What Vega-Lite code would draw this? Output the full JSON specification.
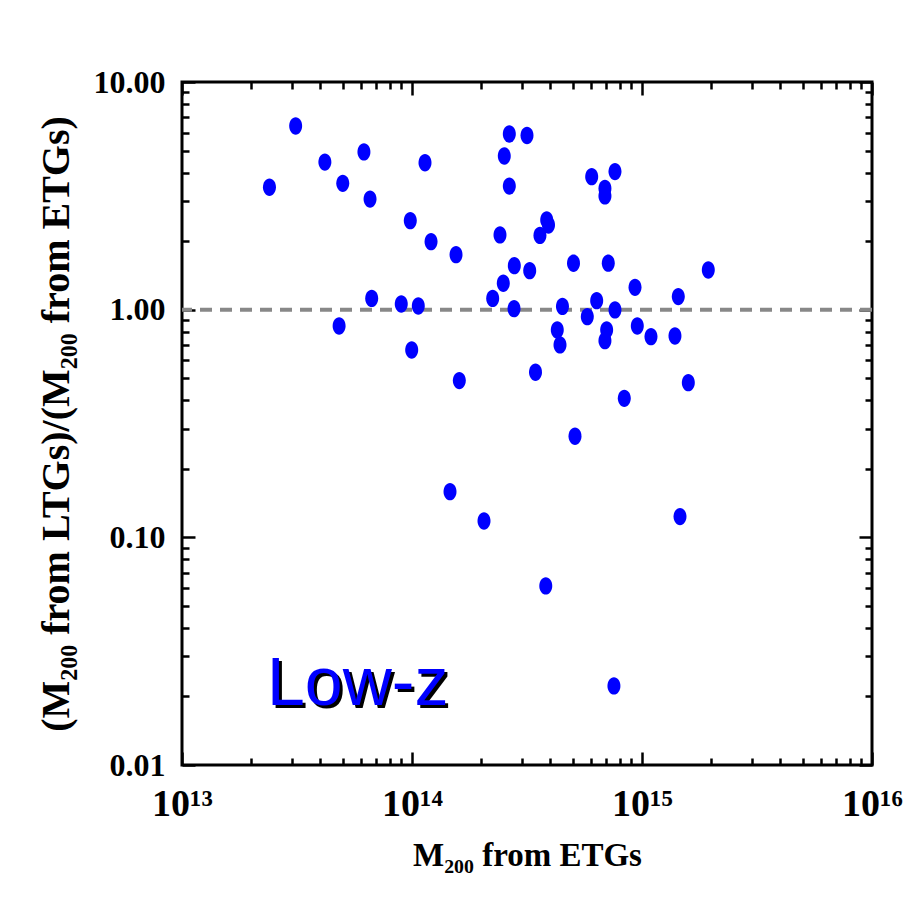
{
  "$schema": "https://vega.github.io/schema/vega-lite/v6.json",
  "width": 690,
  "height": 683,
  "autosize": {"type": "none"},
  "padding": {"left": 182, "top": 82, "right": 40, "bottom": 149},
  "background": "white",
  "config": {
    "view": {"stroke": "black", "strokeWidth": 3},
    "axis": {
      "domainColor": "black",
      "domainWidth": 3,
      "tickColor": "black",
      "tickWidth": 2.5,
      "tickOpacity": 1,
      "grid": false,
      "labelFont": "Liberation Serif",
      "labelFontWeight": "bold",
      "labelColor": "black",
      "titleFont": "Liberation Serif",
      "titleFontWeight": "bold",
      "titleColor": "black",
      "labelFlush": false,
      "labelOverlap": false
    }
  },
  "datasets": {
    "pts": [
      {"m": 2.40e13, "r": 3.45},
      {"m": 3.12e13, "r": 6.41},
      {"m": 4.18e13, "r": 4.45},
      {"m": 5.00e13, "r": 3.59},
      {"m": 6.18e13, "r": 4.93},
      {"m": 6.57e13, "r": 3.06},
      {"m": 6.68e13, "r": 1.12},
      {"m": 4.82e13, "r": 0.848},
      {"m": 8.98e13, "r": 1.059},
      {"m": 9.83e13, "r": 2.46},
      {"m": 1.065e14, "r": 1.038},
      {"m": 1.139e14, "r": 4.42},
      {"m": 9.97e13, "r": 0.665},
      {"m": 1.21e14, "r": 1.99},
      {"m": 1.554e14, "r": 1.744},
      {"m": 1.606e14, "r": 0.488},
      {"m": 1.463e14, "r": 0.1587},
      {"m": 2.056e14, "r": 0.118},
      {"m": 2.243e14, "r": 1.12},
      {"m": 2.413e14, "r": 2.13},
      {"m": 2.494e14, "r": 1.306},
      {"m": 2.519e14, "r": 4.73},
      {"m": 2.649e14, "r": 5.91},
      {"m": 2.649e14, "r": 3.49},
      {"m": 2.777e14, "r": 1.01},
      {"m": 2.785e14, "r": 1.56},
      {"m": 3.162e14, "r": 5.82},
      {"m": 3.249e14, "r": 1.483},
      {"m": 3.443e14, "r": 0.531},
      {"m": 3.60e14, "r": 2.118},
      {"m": 3.852e14, "r": 2.477},
      {"m": 3.922e14, "r": 2.355},
      {"m": 3.816e14, "r": 0.0612},
      {"m": 4.282e14, "r": 0.814},
      {"m": 4.40e14, "r": 0.70},
      {"m": 4.51e14, "r": 1.033},
      {"m": 5.037e14, "r": 1.599},
      {"m": 5.113e14, "r": 0.278},
      {"m": 5.783e14, "r": 0.932},
      {"m": 6.043e14, "r": 3.84},
      {"m": 6.353e14, "r": 1.095},
      {"m": 6.90e14, "r": 3.41},
      {"m": 6.90e14, "r": 3.16},
      {"m": 7.135e14, "r": 1.60},
      {"m": 7.02e14, "r": 0.814},
      {"m": 6.90e14, "r": 0.731},
      {"m": 7.63e14, "r": 0.997},
      {"m": 7.63e14, "r": 4.04},
      {"m": 7.55e14, "r": 0.02225},
      {"m": 8.375e14, "r": 0.408},
      {"m": 9.325e14, "r": 1.254},
      {"m": 9.54e14, "r": 0.848},
      {"m": 1.094e15, "r": 0.761},
      {"m": 1.391e15, "r": 0.766},
      {"m": 1.438e15, "r": 1.141},
      {"m": 1.463e15, "r": 0.1233},
      {"m": 1.590e15, "r": 0.478},
      {"m": 1.942e15, "r": 1.494}
    ],
    "ref": [{"r": 1}],
    "lbl": [{"m": 2.342e13, "r": 0.01836, "text": "Low-z"}]
  },
  "layer": [
    {
      "data": {"name": "ref"},
      "mark": {"type": "rule", "color": "#888888", "strokeWidth": 4, "strokeDash": [12, 8]},
      "encoding": {
        "y": {"field": "r", "type": "quantitative", "scale": {"type": "log", "domain": [0.01, 10], "nice": false}, "axis": null}
      }
    },
    {
      "data": {"name": "pts"},
      "mark": {"type": "point", "shape": "M -0.75 0 A 0.75 1 0 1 1 0.75 0 A 0.75 1 0 1 1 -0.75 0 Z", "filled": true, "size": 300, "color": "#0000ff", "opacity": 1, "strokeWidth": 0},
      "encoding": {
        "x": {
          "field": "m", "type": "quantitative",
          "scale": {"type": "log", "domain": [1e13, 1e16], "nice": false},
          "axis": {
            "orient": "bottom",
            "title": "M₂₀₀ from ETGs",
            "titleFontSize": 33,
            "titlePadding": 16,
            "values": [1e13, 1e14, 1e15, 1e16],
            "ticks": true,
            "tickSize": 13,
            "offset": -13,
            "domain": false,
            "labelExpr": "round(log(datum.value)/LN10) == 13 ? '10¹³' : round(log(datum.value)/LN10) == 14 ? '10¹⁴' : round(log(datum.value)/LN10) == 15 ? '10¹⁵' : '10¹⁶'",
            "labelFontSize": 38,
            "labelPadding": 20
          }
        },
        "y": {
          "field": "r", "type": "quantitative",
          "scale": {"type": "log", "domain": [0.01, 10], "nice": false},
          "axis": {
            "orient": "left",
            "title": "(M₂₀₀  from  LTGs)/(M₂₀₀  from  ETGs)",
            "titleFontSize": 40,
            "titlePadding": 17,
            "values": [0.01, 0.1, 1, 10],
            "ticks": true,
            "tickSize": 13,
            "offset": -13,
            "domain": false,
            "labelExpr": "format(datum.value, '.2f')",
            "labelFontSize": 32,
            "labelPadding": 17
          }
        }
      }
    },
    {
      "data": {"name": "pts"},
      "mark": {"type": "point", "opacity": 0},
      "encoding": {
        "x": {
          "field": "m", "type": "quantitative",
          "scale": {"type": "log", "domain": [1e13, 1e16], "nice": false},
          "axis": {"orient": "top", "title": null, "labels": false, "ticks": true, "domain": false, "offset": -13, "values": [1e13, 1e14, 1e15, 1e16], "tickSize": 13}
        },
        "y": {
          "field": "r", "type": "quantitative",
          "scale": {"type": "log", "domain": [0.01, 10], "nice": false},
          "axis": {"orient": "right", "title": null, "labels": false, "ticks": true, "domain": false, "offset": -13, "values": [0.01, 0.1, 1, 10], "tickSize": 13}
        }
      }
    },
    {
      "data": {"name": "pts"},
      "mark": {"type": "point", "opacity": 0},
      "encoding": {
        "x": {
          "field": "m", "type": "quantitative",
          "scale": {"type": "log", "domain": [1e13, 1e16], "nice": false},
          "axis": {"orient": "bottom", "title": null, "labels": false, "ticks": true, "domain": false, "offset": -7, "values": [2e13, 3e13, 4e13, 5e13, 6e13, 7e13, 8e13, 9e13, 2e14, 3e14, 4e14, 5e14, 6e14, 7e14, 8e14, 9e14, 2e15, 3e15, 4e15, 5e15, 6e15, 7e15, 8e15, 9e15], "tickSize": 7}
        },
        "y": {
          "field": "r", "type": "quantitative",
          "scale": {"type": "log", "domain": [0.01, 10], "nice": false},
          "axis": {"orient": "left", "title": null, "labels": false, "ticks": true, "domain": false, "offset": -7, "values": [0.02, 0.03, 0.04, 0.05, 0.06, 0.07, 0.08, 0.09, 0.2, 0.3, 0.4, 0.5, 0.6, 0.7, 0.8, 0.9, 2, 3, 4, 5, 6, 7, 8, 9], "tickSize": 7}
        }
      }
    },
    {
      "data": {"name": "pts"},
      "mark": {"type": "point", "opacity": 0},
      "encoding": {
        "x": {
          "field": "m", "type": "quantitative",
          "scale": {"type": "log", "domain": [1e13, 1e16], "nice": false},
          "axis": {"orient": "top", "title": null, "labels": false, "ticks": true, "domain": false, "offset": -7, "values": [2e13, 3e13, 4e13, 5e13, 6e13, 7e13, 8e13, 9e13, 2e14, 3e14, 4e14, 5e14, 6e14, 7e14, 8e14, 9e14, 2e15, 3e15, 4e15, 5e15, 6e15, 7e15, 8e15, 9e15], "tickSize": 7}
        },
        "y": {
          "field": "r", "type": "quantitative",
          "scale": {"type": "log", "domain": [0.01, 10], "nice": false},
          "axis": {"orient": "right", "title": null, "labels": false, "ticks": true, "domain": false, "offset": -7, "values": [0.02, 0.03, 0.04, 0.05, 0.06, 0.07, 0.08, 0.09, 0.2, 0.3, 0.4, 0.5, 0.6, 0.7, 0.8, 0.9, 2, 3, 4, 5, 6, 7, 8, 9], "tickSize": 7}
        }
      }
    },
    {
      "data": {"name": "lbl"},
      "mark": {"type": "text", "font": "Liberation Sans", "fontSize": 68, "align": "left", "baseline": "alphabetic", "color": "black", "dx": 3, "dy": 3},
      "encoding": {
        "x": {"field": "m", "type": "quantitative", "scale": {"type": "log", "domain": [1e13, 1e16], "nice": false}, "axis": null},
        "y": {"field": "r", "type": "quantitative", "scale": {"type": "log", "domain": [0.01, 10], "nice": false}, "axis": null},
        "text": {"field": "text"}
      }
    },
    {
      "data": {"name": "lbl"},
      "mark": {"type": "text", "font": "Liberation Sans", "fontSize": 68, "align": "left", "baseline": "alphabetic", "color": "#0000ff"},
      "encoding": {
        "x": {"field": "m", "type": "quantitative", "scale": {"type": "log", "domain": [1e13, 1e16], "nice": false}, "axis": null},
        "y": {"field": "r", "type": "quantitative", "scale": {"type": "log", "domain": [0.01, 10], "nice": false}, "axis": null},
        "text": {"field": "text"}
      }
    }
  ],
  "resolve": {"axis": {"x": "independent", "y": "independent"}}
}
